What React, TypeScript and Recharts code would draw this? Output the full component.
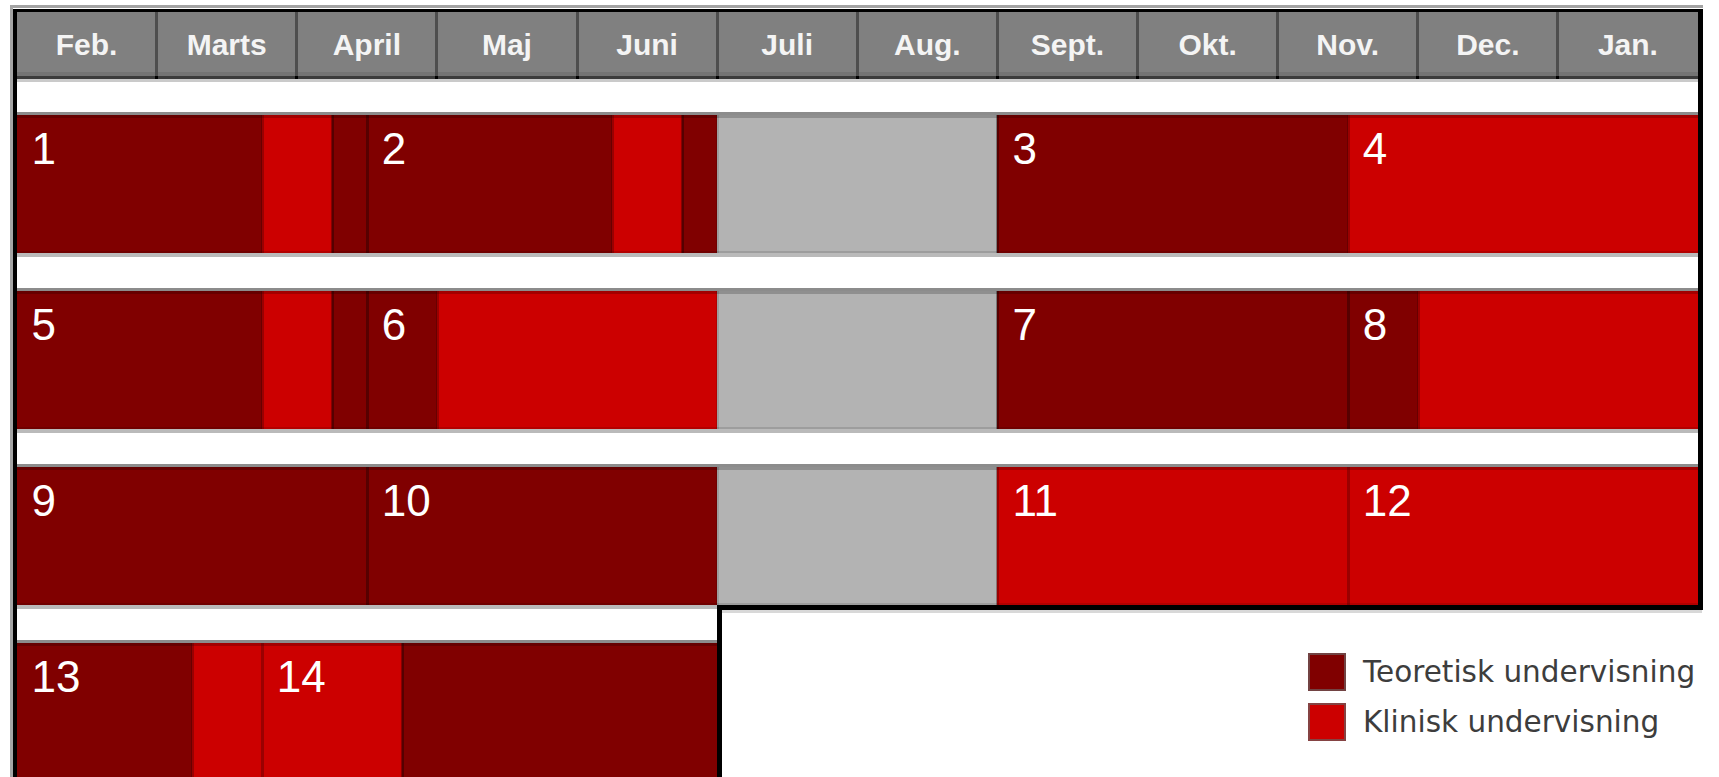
import React from 'react';
import { BarChart, Bar, XAxis, YAxis, Legend, LabelList } from 'recharts';

// ---- data ----
const months = ['Feb.', 'Marts', 'April', 'Maj', 'Juni', 'Juli', 'Aug.', 'Sept.', 'Okt.', 'Nov.', 'Dec.', 'Jan.'];
const monthTicks = [0.5, 1.5, 2.5, 3.5, 4.5, 5.5, 6.5, 7.5, 8.5, 9.5, 10.5, 11.5];
const rows = ['Række 1', 'Række 2', 'Række 3', 'Række 4'];

// segment lengths in months; T = teoretisk, K = klinisk, F = ferie (Juli/Aug.)
const row1Lengths = [1.75, 0.5, 0.25, 1.75, 0.5, 0.25, 2, 2.5, 2.5];
const row1Types = ['T', 'K', 'T', 'T', 'K', 'T', 'F', 'T', 'K'];
const row1Labels = ['1', '', '', '2', '', '', '', '3', '4'];

const row2Lengths = [1.75, 0.5, 0.25, 0.5, 2, 2, 2.5, 0.5, 2];
const row2Types = ['T', 'K', 'T', 'T', 'K', 'F', 'T', 'T', 'K'];
const row2Labels = ['5', '', '', '6', '', '', '7', '8', ''];

const row3Lengths = [2.5, 2.5, 2, 2.5, 2.5];
const row3Types = ['T', 'T', 'F', 'K', 'K'];
const row3Labels = ['9', '10', '', '11', '12'];

const row4Lengths = [1.25, 0.5, 1, 2.25];
const row4Types = ['T', 'K', 'K', 'T'];
const row4Labels = ['13', '', '14', ''];

const legendLabels = ['Teoretisk undervisning', 'Klinisk undervisning'];
const legendTypes = ['T', 'K'];

// ---- styling ----
const COLORS: Record<string, string> = { T: '#800000', K: '#cc0000', F: '#b3b3b3' };
const EDGE: Record<string, string> = { T: 'rgba(0,0,0,0.33)', K: 'rgba(60,0,0,0.35)', F: 'rgba(0,0,0,0.12)' };
const CHART_W = 1719;
const CHART_H = 800;
const MARGIN = { top: 0, right: 21, bottom: 0, left: 16.5 };
const CELL = (CHART_W - MARGIN.left - MARGIN.right) / months.length;
const ROW_GAP = 38;
const SEGMENTS = 9;

const allLengths = [row1Lengths, row2Lengths, row3Lengths, row4Lengths];
const allTypes = [row1Types, row2Types, row3Types, row4Types];
const allLabels = [row1Labels, row2Labels, row3Labels, row4Labels];

const data = rows.map((row, r) => {
  const o: any = { row, r };
  for (let i = 0; i < SEGMENTS; i++) {
    o[`s${i}`] = allLengths[r][i] ?? 0;
    o[`l${i}`] = allLabels[r][i] ?? '';
  }
  return o;
});

const sum = (a: number[]) => a.reduce((p, c) => p + c, 0);

const makeShape = (seg: number) => (props: any) => {
  const { x, y, width, height, payload } = props;
  const r = payload?.r ?? 0;
  const lens = allLengths[r];
  if (seg >= lens.length || !(width > 0)) return <g />;
  const type = allTypes[r][seg];
  const unit = width / lens[seg];
  const start = sum(lens.slice(0, seg));
  const end = start + lens[seg];
  const isLast = seg === lens.length - 1;
  const isLastRow = r === rows.length - 1;
  const nextTotal = isLastRow ? Infinity : sum(allLengths[r + 1]);
  const extra = isLastRow ? 80 : 0;
  const parts: React.ReactNode[] = [];
  parts.push(<rect key="f" x={x} y={y} width={width} height={height} fill={COLORS[type]} />);
  parts.push(<rect key="ts" x={x} y={y} width={width} height={3} fill="rgba(0,0,0,0.2)" />);
  parts.push(<rect key="bs" x={x} y={y + height - 2} width={width} height={2} fill="rgba(0,0,0,0.12)" />);
  if (seg > 0) parts.push(<rect key="le" x={x - 1} y={y} width={3} height={height} fill={EDGE[type]} />);
  parts.push(<rect key="tl" x={x} y={y - 3} width={width} height={3} fill="#8c8c8c" />);
  parts.push(<rect key="bl" x={x} y={y + height} width={width} height={4} fill="#bababa" />);
  if (seg === 0) {
    parts.push(<rect key="lb" x={x - 4} y={y - ROW_GAP} width={4} height={height + ROW_GAP + extra} fill="#000" />);
    parts.push(<rect key="lg" x={x - 7} y={y - ROW_GAP} width={3} height={height + ROW_GAP + extra} fill="#a5a5a5" />);
  }
  if (isLast) {
    parts.push(<rect key="rb" x={x + width} y={y - ROW_GAP} width={5} height={height + ROW_GAP + 5 + extra} fill="#000" />);
  }
  if (end > nextTotal) {
    const bx = x + Math.max(0, nextTotal - start) * unit;
    parts.push(<rect key="bb" x={bx} y={y + height} width={x + width - bx + (isLast ? 5 : 0)} height={5} fill="#000" />);
    parts.push(<rect key="bg" x={bx + 4} y={y + height + 5} width={x + width - bx} height={3} fill="#d8d8d8" />);
  }
  return <g shapeRendering="crispEdges">{parts}</g>;
};

const SegLabel = (props: any) => {
  const vb = props.viewBox || props;
  const x = vb.x ?? props.x;
  const y = vb.y ?? props.y;
  const value = props.value;
  if (!value || x == null || y == null) return null;
  return (
    <text x={x + 15} y={y + 49} fill="#ffffff" fontSize={44} fontFamily="'Liberation Sans', Arial, sans-serif">
      {value}
    </text>
  );
};

const HeaderTick = (props: any) => {
  const { x, y, payload } = props;
  const i = monthTicks.indexOf(payload.value);
  const left = x - CELL / 2;
  const right = x + CELL / 2;
  const first = i === 0;
  const last = i === months.length - 1;
  return (
    <g shapeRendering="crispEdges">
      <rect x={left - (first ? 7 : 0)} y={y - 91} width={CELL + (first ? 7 : 0) + (last ? 5 : 0)} height={3} fill="#a3a3a3" />
      <rect x={left - (first ? 4 : 0)} y={y - 87} width={CELL + (first ? 4 : 0) + (last ? 5 : 0)} height={3} fill="#000" />
      <rect x={left} y={y - 84} width={CELL} height={67} fill="#808080" />
      <rect x={left} y={y - 24} width={CELL} height={4} fill="#747474" />
      <rect x={left} y={y - 20} width={CELL} height={3} fill="#3c3c3c" />
      <rect x={left} y={y - 17} width={CELL} height={3} fill="#cacaca" />
      {!first && <rect x={left - 1.5} y={y - 84} width={3} height={64} fill="#4e4e4e" />}
      {!first && <rect x={left - 1.5} y={y - 20} width={3} height={3} fill="#000" />}
      {first && <rect x={left - 4} y={y - 87} width={4} height={87} fill="#000" />}
      {first && <rect x={left - 7} y={y - 91} width={3} height={91} fill="#a5a5a5" />}
      {last && <rect x={right} y={y - 87} width={5} height={87} fill="#000" />}
      <text
        x={x}
        y={y - 41}
        textAnchor="middle"
        fill="#f4f4f4"
        fontSize={30}
        fontWeight="bold"
        fontFamily="'Liberation Sans', Arial, sans-serif"
        shapeRendering="auto"
      >
        {months[i]}
      </text>
    </g>
  );
};

const renderLegend = () => (
  <div style={{ fontFamily: "'DejaVu Sans', sans-serif", fontSize: 29.5, color: '#3d3d3d', whiteSpace: 'nowrap' }}>
    {legendLabels.map((label, i) => (
      <div key={label} style={{ display: 'flex', alignItems: 'center', height: 50 }}>
        <span
          style={{
            display: 'inline-block',
            width: 38,
            height: 38,
            boxSizing: 'border-box',
            background: COLORS[legendTypes[i]],
            border: '2px solid rgba(110,90,90,0.75)',
            marginRight: 17,
          }}
        />
        <span>{label}</span>
      </div>
    ))}
  </div>
);

export default function App() {
  return (
    <div style={{ position: 'fixed', left: 0, top: 0, width: 1719, height: 777, overflow: 'hidden', background: '#fff' }}>
      <BarChart width={CHART_W} height={CHART_H} data={data} layout="vertical" margin={MARGIN}>
        <XAxis
          type="number"
          domain={[0, 12]}
          ticks={monthTicks}
          orientation="top"
          height={96}
          axisLine={false}
          tickLine={false}
          tickSize={0}
          tickMargin={0}
          interval={0}
          tick={(p: any) => <HeaderTick {...p} />}
        />
        <YAxis type="category" dataKey="row" hide />
        <Legend
          layout="vertical"
          align="center"
          verticalAlign="middle"
          content={renderLegend}
          wrapperStyle={{ left: 1308, top: 647, width: 'auto' }}
        />
        {Array.from({ length: SEGMENTS }, (_, i) => (
          <Bar
            key={`s${i}`}
            dataKey={`s${i}`}
            stackId="plan"
            barSize={138}
            isAnimationActive={false}
            shape={makeShape(i)}
            legendType="none"
          >
            <LabelList dataKey={`l${i}`} content={SegLabel} />
          </Bar>
        ))}
      </BarChart>
    </div>
  );
}
